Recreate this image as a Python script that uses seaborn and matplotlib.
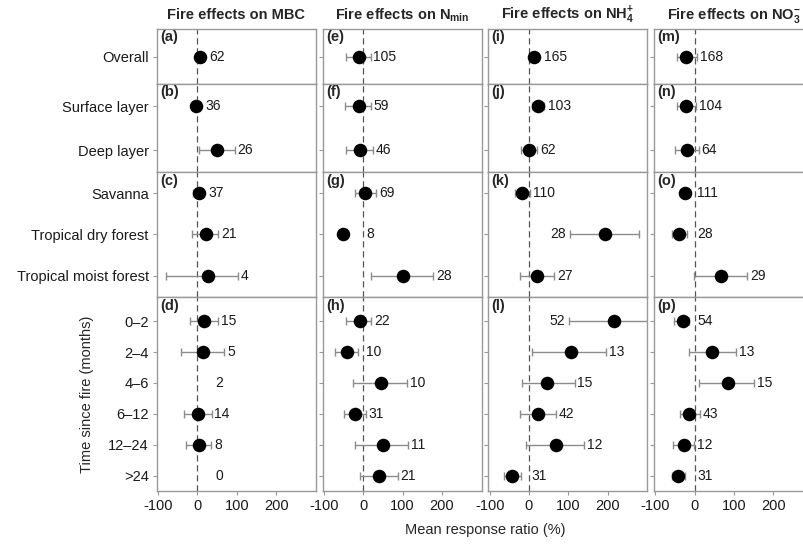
import numpy as np
import pandas as pd
import matplotlib
matplotlib.use("Agg")
import matplotlib.pyplot as plt
import seaborn as sns

# moderator levels, one list per panel row
groups = [
    ["Overall"],
    ["Surface layer", "Deep layer"],
    ["Savanna", "Tropical dry forest", "Tropical moist forest"],
    ["0–2", "2–4", "4–6", "6–12", "12–24", ">24"],
]
categories = [c for g in groups for c in g]

variables = ["MBC", "Nmin", "NH4", "NO3"]
titles = [
    "Fire effects on MBC",
    r"Fire effects on N$_{\mathbf{min}}$",
    r"Fire effects on NH$_{\mathbf{4}}^{\mathbf{+}}$",
    r"Fire effects on NO$_{\mathbf{3}}^{\mathbf{-}}$",
]
panel_letters = "abcdefghijklmnop"

# mean response ratio (%), 95% CI bounds and sample size, in `categories` order
mbc_mean = [6, -5, 50, 3, 21, 27, 17, 14, np.nan, 2, 3, np.nan]
mbc_lo = [-4, -14, 5, -12, -15, -79, -19, -43, np.nan, -34, -30, np.nan]
mbc_hi = [16, 4, 95, 15, 53, 103, 52, 68, np.nan, 36, 35, np.nan]
mbc_n = [62, 36, 26, 37, 21, 4, 15, 5, 2, 14, 8, 0]

nmin_mean = [-11, -11, -7, 4, -51, 102, -9, -41, 44, -22, 50, 41]
nmin_lo = [-45, -47, -43, -22, -60, 20, -45, -72, -25, -49, -20, -7]
nmin_hi = [19, 20, 25, 33, -42, 178, 21, -13, 112, 6, 114, 88]
nmin_n = [105, 59, 46, 69, 8, 28, 22, 10, 10, 31, 11, 21]

nh4_mean = [14, 24, 0, -17, 193, 21, 216, 106, 45, 24, 68, -42]
nh4_lo = [4, 7, -21, -36, 104, -23, 103, 7, -17, -23, -7, -64]
nh4_hi = [24, 38, 21, 3, 280, 64, 330, 197, 116, 69, 140, -21]
nh4_n = [165, 103, 62, 110, 28, 27, 52, 13, 15, 42, 12, 31]

no3_mean = [-21, -21, -19, -24, -41, 68, -31, 44, 84, -14, -26, -42]
no3_lo = [-46, -46, -51, -38, -58, -3, -52, -15, 10, -38, -56, -59]
no3_hi = [6, 4, 10, -11, -19, 133, -15, 105, 152, 14, -3, -24]
no3_n = [168, 104, 64, 111, 28, 29, 54, 13, 15, 43, 12, 31]

series = {
    "MBC": (mbc_mean, mbc_lo, mbc_hi, mbc_n),
    "Nmin": (nmin_mean, nmin_lo, nmin_hi, nmin_n),
    "NH4": (nh4_mean, nh4_lo, nh4_hi, nh4_n),
    "NO3": (no3_mean, no3_lo, no3_hi, no3_n),
}

rows = []
for v in variables:
    mean, lo, hi, n = series[v]
    k = 0
    for gi, g in enumerate(groups):
        for pos, cat in enumerate(g):
            rows.append(dict(var=v, group=gi, pos=pos, cat=cat,
                             mean=mean[k], lo=lo[k], hi=hi[k], n=n[k]))
            k += 1
df = pd.DataFrame(rows)

sns.set_theme(style="white")
plt.rcParams["font.family"] = ["Liberation Sans", "DejaVu Sans"]
plt.rcParams["mathtext.fontset"] = "custom"
plt.rcParams["mathtext.rm"] = "Liberation Sans"
plt.rcParams["mathtext.bf"] = "Liberation Sans:bold"
plt.rcParams["mathtext.it"] = "Liberation Sans:italic"
plt.rcParams["axes.unicode_minus"] = False

grey = "#999999"
bar_col = "#8c8c8c"
marker_r = 17        # marker radius in data units, used to place n labels
missing_x = 45       # where n is written when there is no estimate

fig = plt.figure(figsize=(8.04, 5.48), dpi=100)
gs = fig.add_gridspec(4, 4, left=157 / 804, right=813 / 804,
                      top=1 - 29 / 548, bottom=1 - 491 / 548,
                      wspace=0.044, hspace=0,
                      height_ratios=[55, 88, 124, 194])
top_pad = [0.5, 0.5, 0.5, 0.8]

for j, v in enumerate(variables):
    for i, g in enumerate(groups):
        ax = fig.add_subplot(gs[i, j])
        sub = df[(df["var"] == v) & (df["group"] == i)]
        ok = sub.dropna(subset=["mean"])

        ax.axvline(0, color="#555555", lw=0.9, ls=(0, (5, 3)), zorder=1)
        ax.errorbar(ok["mean"], ok["pos"],
                    xerr=[ok["mean"] - ok["lo"], ok["hi"] - ok["mean"]],
                    fmt="none", ecolor=bar_col, elinewidth=1,
                    capsize=3, capthick=1, zorder=2)
        sns.scatterplot(data=ok, x="mean", y="pos", ax=ax, color="black",
                        s=95, linewidth=0, zorder=3, legend=False)

        # sample sizes
        for _, r in sub.iterrows():
            if np.isnan(r["mean"]):
                x, dx, ha = missing_x, 0, "left"
            elif r["hi"] > 250:
                x, dx, ha = r["lo"], -3, "right"
            else:
                x, dx, ha = max(r["hi"], r["mean"] + marker_r, 0), 2, "left"
            ax.annotate(str(int(r["n"])), (x, r["pos"]), xytext=(dx, 0),
                        textcoords="offset points", ha=ha, va="center",
                        fontsize=10, color="#1a1a1a")

        ax.set_xlim(-103, 301)
        ax.set_ylim(len(g) - 0.5, -top_pad[i])
        ax.set_yticks(range(len(g)))
        ax.set_yticklabels(g if j == 0 else [])
        ax.set_xticks([-100, 0, 100, 200])
        if i < 3:
            ax.set_xticklabels([])
        ax.set_xlabel("")
        ax.set_ylabel("")
        ax.tick_params(bottom=True, left=True, direction="out", length=3,
                       width=0.8, color=grey, labelsize=10.5,
                       labelcolor="#1a1a1a", pad=3)
        for s in ax.spines.values():
            s.set_color(grey)
            s.set_linewidth(1)

        ax.text(0.02, 0.985, f"({panel_letters[j * 4 + i]})",
                transform=ax.transAxes, ha="left", va="top",
                fontsize=10.5, fontweight="bold")
        if i == 0:
            ax.set_title(titles[j], fontsize=10.5, fontweight="bold", pad=7)

fig.text(485 / 804, 1 - 530 / 548, "Mean response ratio (%)",
         ha="center", va="center", fontsize=10.5)
fig.text(87 / 804, 1 - 394 / 548, "Time since fire (months)",
         ha="center", va="center", rotation=90, fontsize=10.5)

fig.savefig("out.png", dpi=100)
